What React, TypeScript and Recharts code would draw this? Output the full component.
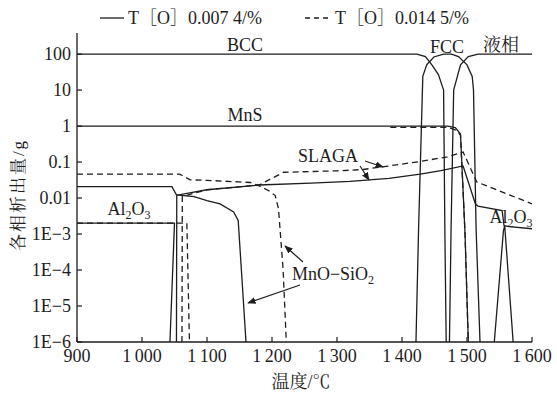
import { LineChart, Line, XAxis, YAxis } from 'recharts';

const INK = '#1d1d1d';
const FONT = "'Liberation Serif', 'Times New Roman', 'Noto Serif CJK SC', 'Noto Sans CJK SC', serif";

const tempTicks = [900, 1000, 1100, 1200, 1300, 1400, 1500, 1600];
const amountTicks = [1e-6, 1e-5, 1e-4, 1e-3, 0.01, 0.1, 1, 10, 100];

// T[O] 0.0074% -> solid lines
const bccT = [900, 1423, 1436, 1446, 1456, 1464, 1466, 1468];
const bccAmt = [100, 100, 85, 50, 27, 10, 0.001, 1e-6];
const fccT = [1421.5, 1425.5, 1432, 1438, 1449, 1464, 1476, 1487, 1500, 1508, 1510, 1514, 1520];
const fccAmt = [1e-6, 0.0014, 24, 50, 83, 100, 100, 85, 50, 24, 10, 0.0014, 1e-6];
const liquidT = [1473, 1475.5, 1479.5, 1490, 1502, 1517, 1600];
const liquidAmt = [1e-6, 0.0014, 10, 50, 85, 100, 100];
const mnsT = [900, 1470, 1482, 1490, 1497, 1502];
const mnsAmt = [1, 1, 0.9, 0.6, 0.001, 1e-6];
const slagaT = [1053, 1053.5, 1100, 1180, 1260, 1320, 1380, 1428, 1460, 1494, 1513, 1517, 1554, 1557, 1565, 1600];
const slagaAmt = [1e-6, 0.012, 0.017, 0.023, 0.026, 0.029, 0.035, 0.046, 0.058, 0.078, 0.0068, 0.006, 0.0045, 0.0017, 0.0016, 0.0014];
const mnoSiT = [900, 1046, 1053, 1080, 1100, 1120, 1141, 1148, 1160];
const mnoSiAmt = [0.0207, 0.0207, 0.0122, 0.011, 0.0085, 0.0069, 0.0041, 0.0024, 1e-6];
const al2o3LowT = [900, 1050, 1043];
const al2o3LowAmt = [0.002, 0.002, 1e-6];
const al2o3HighT = [1542, 1556, 1558, 1571];
const al2o3HighAmt = [1e-6, 0.0012, 0.0017, 1e-6];

// T[O] 0.0145% -> dashed lines
const mnsHiT = [1382, 1470, 1485, 1490, 1497, 1502];
const mnsHiAmt = [0.92, 0.92, 0.75, 0.55, 0.001, 1e-6];
const slagaHiT = [1061.5, 1062, 1100, 1180, 1218, 1300, 1340, 1380, 1430, 1470, 1494, 1515, 1600];
const slagaHiAmt = [1e-6, 0.011, 0.017, 0.023, 0.052, 0.057, 0.062, 0.078, 0.105, 0.14, 0.19, 0.028, 0.0069];
const mnoSiHiT = [900, 1058, 1074, 1100, 1150, 1167, 1182, 1195, 1205, 1210, 1217, 1222];
const mnoSiHiAmt = [0.046, 0.046, 0.032, 0.031, 0.028, 0.027, 0.021, 0.016, 0.0117, 0.005, 0.00011, 1e-6];
const al2o3HiT = [900, 1069, 1073];
const al2o3HiAmt = [0.002, 0.002, 1e-6];

const pts = (t: number[], v: number[]) => t.map((x, i) => ({ t: x, v: v[i] }));

const solidSeries = [
  pts(bccT, bccAmt),
  pts(fccT, fccAmt),
  pts(liquidT, liquidAmt),
  pts(mnsT, mnsAmt),
  pts(slagaT, slagaAmt),
  pts(mnoSiT, mnoSiAmt),
  pts(al2o3LowT, al2o3LowAmt),
  pts(al2o3HighT, al2o3HighAmt),
];
const dashedSeries = [
  pts(mnsHiT, mnsHiAmt),
  pts(slagaHiT, slagaHiAmt),
  pts(mnoSiHiT, mnoSiHiAmt),
  pts(al2o3HiT, al2o3HiAmt),
];

const fmtTemp = (v: number) =>
  v >= 1000 ? `${Math.floor(v / 1000)}\u2009${String(v % 1000).padStart(3, '0')}` : String(v);
const fmtAmt = (v: number) => (v >= 0.01 ? String(v) : `1E\u2212${Math.round(-Math.log10(v))}`);

function XTick({ x, y, payload }: any) {
  return (
    <text x={x} y={y + 12} textAnchor="middle" fontFamily={FONT} fontSize={18} fill={INK}>
      {fmtTemp(payload.value)}
    </text>
  );
}

function YTick({ x, y, payload }: any) {
  return (
    <text x={x} y={y + 6} textAnchor="end" fontFamily={FONT} fontSize={18} fill={INK}>
      {fmtAmt(payload.value)}
    </text>
  );
}

const Sub = ({ children }: { children: string }) => (
  <tspan fontSize={12} dy={4}>{children}</tspan>
);

function Notes() {
  const txt = { fontFamily: FONT, fontSize: 18, fill: INK, textAnchor: 'middle' as const };
  return (
    <svg width={557} height={394} style={{ position: 'absolute', left: 0, top: 0, pointerEvents: 'none' }}>
      <defs>
        <marker id="arr" viewBox="0 0 10 10" refX="9" refY="5" markerWidth="7" markerHeight="7" orient="auto">
          <path d="M0,1 L10,5 L0,9 z" fill={INK} />
        </marker>
      </defs>
      {/* legend */}
      <line x1={100} x2={124} y1={18} y2={18} stroke={INK} strokeWidth={1.3} />
      <text x={128} y={24} fontFamily={FONT} fontSize={18} fill={INK}>T［O］0.007 4/%</text>
      <line x1={305} x2={331} y1={18} y2={18} stroke={INK} strokeWidth={1.3} strokeDasharray="5 4" />
      <text x={335} y={24} fontFamily={FONT} fontSize={18} fill={INK}>T［O］0.014 5/%</text>

      <text x={245} y={51} {...txt}>BCC</text>
      <text x={447} y={53} {...txt}>FCC</text>
      <text x={501} y={51} {...txt}>液相</text>
      <text x={245} y={121} {...txt}>MnS</text>
      <text x={328} y={162} {...txt}>SLAGA</text>
      <text x={129} y={215} {...txt}>Al<Sub>2</Sub><tspan dy={-4}>O</tspan><Sub>3</Sub></text>
      <text x={511} y={223} {...txt}>Al<Sub>2</Sub><tspan dy={-4}>O</tspan><Sub>3</Sub></text>
      <text x={333} y={280} {...txt}>MnO−SiO<Sub>2</Sub></text>

      <line x1={365} y1={161} x2={383} y2={167} stroke={INK} strokeWidth={1.2} markerEnd="url(#arr)" />
      <line x1={360} y1={166} x2={369} y2={180} stroke={INK} strokeWidth={1.2} markerEnd="url(#arr)" />
      <line x1={303} y1={262} x2={285} y2={246} stroke={INK} strokeWidth={1.2} markerEnd="url(#arr)" />
      <line x1={300} y1={285} x2={248} y2={303} stroke={INK} strokeWidth={1.2} markerEnd="url(#arr)" />

      <text x={301} y={388} {...txt}>温度/℃</text>
      <text
        x={18}
        y={195}
        {...txt}
        fontSize={17}
        letterSpacing={2}
        dominantBaseline="central"
        transform="rotate(-90 18 195)"
      >
        各相析出量/g
      </text>
    </svg>
  );
}

export default function App() {
  return (
    <div style={{ position: 'absolute', left: 0, top: 0, width: 557, height: 394, background: '#fff' }}>
      <LineChart width={557} height={394} margin={{ top: 33, right: 25, bottom: 22, left: 17 }}>
        {/* negative tickSize turns the tick marks inwards */}
        <XAxis
          dataKey="t"
          type="number"
          domain={[900, 1600]}
          ticks={tempTicks}
          allowDataOverflow
          height={30}
          tickSize={-5}
          tickMargin={13}
          tickLine={{ stroke: INK, strokeWidth: 1.2 }}
          axisLine={{ stroke: INK, strokeWidth: 1.3 }}
          tick={<XTick />}
        />
        <XAxis
          xAxisId="top"
          orientation="top"
          type="number"
          domain={[900, 1600]}
          height={0}
          tick={false}
          tickLine={false}
          axisLine={{ stroke: INK, strokeWidth: 1.3 }}
        />
        <YAxis
          scale="log"
          domain={[1e-6, 385]}
          ticks={amountTicks}
          allowDataOverflow
          width={60}
          tickSize={-5}
          tickMargin={11}
          tickLine={{ stroke: INK, strokeWidth: 1.2 }}
          axisLine={{ stroke: INK, strokeWidth: 1.3 }}
          tick={<YTick />}
        />
        <YAxis
          yAxisId="right"
          orientation="right"
          domain={[0, 1]}
          width={0}
          tick={false}
          tickLine={false}
          axisLine={{ stroke: INK, strokeWidth: 1.3 }}
        />
        {solidSeries.map((d, i) => (
          <Line
            key={`s${i}`}
            data={d}
            dataKey="v"
            type="linear"
            stroke={INK}
            strokeWidth={1.3}
            dot={false}
            isAnimationActive={false}
          />
        ))}
        {dashedSeries.map((d, i) => (
          <Line
            key={`d${i}`}
            data={d}
            dataKey="v"
            type="linear"
            stroke={INK}
            strokeWidth={1.3}
            strokeDasharray="6 4"
            dot={false}
            isAnimationActive={false}
          />
        ))}
      </LineChart>
      <Notes />
    </div>
  );
}
